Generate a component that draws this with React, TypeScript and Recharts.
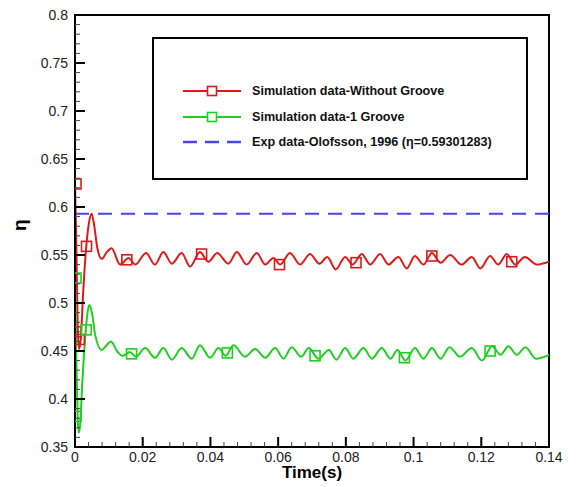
import React from "react";
import {
  ComposedChart,
  Line,
  Scatter,
  XAxis,
  YAxis,
  ReferenceLine,
  ReferenceArea,
  Legend,
} from "recharts";

// ---- data ----
const redTime = [
  0, 0.0004, 0.0008, 0.0012, 0.0017, 0.0024, 0.0033, 0.0041, 0.0049, 0.0057, 0.0066, 0.0079,
  0.0094, 0.0108, 0.0133, 0.0158, 0.0178, 0.021, 0.0236, 0.0261, 0.0286, 0.0315, 0.034, 0.0369,
  0.0394, 0.042, 0.0453, 0.0478, 0.0507, 0.0537, 0.0562, 0.0586, 0.0606, 0.0635, 0.0665, 0.0694,
  0.0722, 0.0745, 0.077, 0.0798, 0.082, 0.0847, 0.0872, 0.0901, 0.0926, 0.0955, 0.098, 0.1004,
  0.1029, 0.1054, 0.108, 0.1108, 0.1142, 0.1172, 0.1197, 0.1226, 0.125, 0.1275, 0.13, 0.1329,
  0.1364, 0.14,
];
const redEta = [
  0.625, 0.56, 0.475, 0.452, 0.462, 0.51, 0.558, 0.583, 0.593, 0.58, 0.557, 0.546,
  0.553, 0.557, 0.54, 0.547, 0.54, 0.552, 0.54, 0.553, 0.541, 0.552, 0.538, 0.553,
  0.543, 0.552, 0.541, 0.553, 0.54, 0.552, 0.54, 0.547, 0.54, 0.552, 0.54, 0.551,
  0.541, 0.548, 0.535, 0.548, 0.54, 0.551, 0.54, 0.551, 0.54, 0.548, 0.536, 0.549,
  0.54, 0.552, 0.542, 0.55, 0.54, 0.548, 0.536, 0.549, 0.54, 0.551, 0.54, 0.548,
  0.54, 0.543,
];

const greenTime = [
  0, 0.0004, 0.0008, 0.0011, 0.0015, 0.0022, 0.0031, 0.0037, 0.0042, 0.005, 0.006, 0.0079,
  0.0093, 0.0106, 0.0124, 0.0141, 0.0162, 0.018, 0.0207, 0.0236, 0.0261, 0.0286, 0.0315, 0.0345,
  0.0369, 0.0399, 0.0424, 0.0445, 0.0468, 0.0502, 0.0532, 0.0562, 0.0591, 0.0616, 0.064, 0.0668,
  0.069, 0.0719, 0.075, 0.0772, 0.0798, 0.0822, 0.0852, 0.0877, 0.0906, 0.0932, 0.0952, 0.0976,
  0.1004, 0.1029, 0.1054, 0.108, 0.1106, 0.1137, 0.1172, 0.1202, 0.1232, 0.1257, 0.128, 0.1305,
  0.133, 0.1362, 0.14,
];
const greenEta = [
  0.526, 0.44, 0.38, 0.365, 0.372, 0.42, 0.468, 0.49, 0.498, 0.49, 0.466, 0.451,
  0.456, 0.46, 0.45, 0.445, 0.449, 0.444, 0.453, 0.443, 0.453, 0.441, 0.453, 0.442,
  0.456, 0.443, 0.453, 0.445, 0.456, 0.444, 0.452, 0.443, 0.453, 0.442, 0.454, 0.444,
  0.453, 0.442, 0.451, 0.441, 0.453, 0.442, 0.453, 0.442, 0.453, 0.442, 0.451, 0.44,
  0.453, 0.442, 0.453, 0.442, 0.454, 0.444, 0.453, 0.44, 0.455, 0.446, 0.455, 0.446,
  0.454, 0.442, 0.446,
];

const redMarkTime = [0.0003, 0.0003, 0.0013, 0.0034, 0.0153, 0.0374, 0.0604, 0.083, 0.1054, 0.129];
const redMarkEta = [0.624, 0.47, 0.462, 0.559, 0.545, 0.551, 0.54, 0.542, 0.549, 0.543];
const greenMarkTime = [0.0003, 0.0003, 0.0033, 0.0167, 0.045, 0.0709, 0.0973, 0.1226];
const greenMarkEta = [0.526, 0.382, 0.472, 0.447, 0.448, 0.445, 0.443, 0.45];

const expEta = 0.59301283;

const xMajor = [0, 0.02, 0.04, 0.06, 0.08, 0.1, 0.12, 0.14];
const xTicks = [
  0, 0.004, 0.008, 0.012, 0.016, 0.02, 0.024, 0.028, 0.032, 0.036, 0.04, 0.044, 0.048, 0.052,
  0.056, 0.06, 0.064, 0.068, 0.072, 0.076, 0.08, 0.084, 0.088, 0.092, 0.096, 0.1, 0.104, 0.108,
  0.112, 0.116, 0.12, 0.124, 0.128, 0.132, 0.136, 0.14,
];
const yMajor = [0.35, 0.4, 0.45, 0.5, 0.55, 0.6, 0.65, 0.7, 0.75, 0.8];
const yTicks = [
  0.35, 0.36, 0.37, 0.38, 0.39, 0.4, 0.41, 0.42, 0.43, 0.44, 0.45, 0.46, 0.47, 0.48, 0.49, 0.5,
  0.51, 0.52, 0.53, 0.54, 0.55, 0.56, 0.57, 0.58, 0.59, 0.6, 0.61, 0.62, 0.63, 0.64, 0.65, 0.66,
  0.67, 0.68, 0.69, 0.7, 0.71, 0.72, 0.73, 0.74, 0.75, 0.76, 0.77, 0.78, 0.79, 0.8,
];

const legendLabels = [
  "Simulation data-Without Groove",
  "Simulation data-1 Groove",
  "Exp data-Olofsson, 1996 (η=0.59301283)",
];

const RED = "#dc1a1a";
const GREEN = "#1fcf1f";
const BLUE = "#4646f2";
const FONT = "'Liberation Sans', Arial, sans-serif";

const redData = redTime.map((t, i) => ({ t, eta: redEta[i] }));
const greenData = greenTime.map((t, i) => ({ t, eta: greenEta[i] }));
const redMarks = redMarkTime.map((t, i) => ({ t, eta: redMarkEta[i] }));
const greenMarks = greenMarkTime.map((t, i) => ({ t, eta: greenMarkEta[i] }));

const isIn = (arr: number[], v: number) => arr.some((m) => Math.abs(m - v) < 1e-9);

const YTick = (props: any) => {
  const { x, y, payload } = props;
  const v = payload.value;
  const major = isIn(yMajor, v);
  const ax = x + 7;
  return (
    <g>
      <line x1={ax} x2={ax + (major ? 10 : 5)} y1={y} y2={y} stroke={major ? "#000" : "#444"} strokeWidth={major ? 2 : 1} />
      {major && (
        <text x={x} y={y} dy="0.36em" textAnchor="end" fontSize={14} fontFamily={FONT} fill="#222">
          {String(v)}
        </text>
      )}
    </g>
  );
};

const XTick = (props: any) => {
  const { x, y, payload } = props;
  const v = payload.value;
  const major = isIn(xMajor, v);
  const ay = y - 3;
  return (
    <g>
      <line x1={x} x2={x} y1={ay} y2={ay - (major ? 10 : 5)} stroke={major ? "#000" : "#444"} strokeWidth={major ? 2 : 1} />
      {major && (
        <text x={x} y={y} dy="0.85em" textAnchor="middle" fontSize={14} fontFamily={FONT} fill="#222">
          {String(v)}
        </text>
      )}
    </g>
  );
};

const square = (color: string) => (props: any) => {
  const { cx, cy } = props;
  return <rect x={cx - 5} y={cy - 5} width={10} height={10} fill="none" stroke={color} strokeWidth={1.6} />;
};

const LegendBox = () => {
  const colors = [RED, GREEN, BLUE];
  return (
    <div
      style={{
        width: 372,
        height: 139,
        border: "2px solid #000",
        background: "#fff",
        position: "relative",
        fontFamily: FONT,
      }}
    >
      {legendLabels.map((lab, i) => {
        const top = [52, 78, 103][i];
        return (
          <div key={lab} style={{ position: "absolute", left: 0, top: top - 10, height: 20, width: 370 }}>
            <svg width={100} height={20} style={{ position: "absolute", left: 0, top: 0 }}>
              {i < 2 ? (
                <g>
                  <line x1={29} x2={87} y1={10} y2={10} stroke={colors[i]} strokeWidth={2} />
                  <rect x={53.5} y={5.5} width={9} height={9} fill="#fff" stroke={colors[i]} strokeWidth={1.6} />
                </g>
              ) : (
                <line x1={29} x2={87} y1={10} y2={10} stroke={colors[i]} strokeWidth={2.5} strokeDasharray="14 8" />
              )}
            </svg>
            <span
              style={{
                position: "absolute",
                left: 98,
                top: 2,
                fontSize: 12.6,
                fontWeight: "bold",
                lineHeight: "16px",
                color: "#111",
                whiteSpace: "nowrap",
              }}
            >
              {lab}
            </span>
          </div>
        );
      })}
    </div>
  );
};

export default function App() {
  return (
    <ComposedChart
      width={560}
      height={476}
      margin={{ top: 7, right: 19, bottom: 0, left: 2 }}
      style={{ background: "#fff" }}
    >
      <XAxis
        dataKey="t"
        type="number"
        domain={[0, 0.14]}
        ticks={xTicks}
        interval={0}
        tick={<XTick />}
        tickLine={false}
        tickSize={0}
        tickMargin={3}
        axisLine={{ stroke: "#000", strokeWidth: 2 }}
        height={37}
        allowDataOverflow
        label={{
          value: "Time(s)",
          position: "insideBottom",
          offset: 6,
          style: { fontFamily: FONT, fontSize: 17, fontWeight: "bold", fill: "#000" },
        }}
      />
      <YAxis
        dataKey="eta"
        type="number"
        domain={[0.35, 0.8]}
        ticks={yTicks}
        interval={0}
        tick={<YTick />}
        tickLine={false}
        tickSize={0}
        tickMargin={7}
        axisLine={{ stroke: "#000", strokeWidth: 2 }}
        width={65}
        allowDataOverflow
        label={{
          value: "η",
          angle: -90,
          position: "insideLeft",
          offset: 9,
          style: { fontFamily: FONT, fontSize: 19, fontWeight: "bold", fill: "#000" },
        }}
      />
      <ReferenceArea
        x1={0}
        x2={0.14}
        y1={0.35}
        y2={0.8}
        fill="none"
        stroke="#000"
        strokeWidth={2}
        ifOverflow="visible"
      />
      <ReferenceLine y={expEta} stroke={BLUE} strokeWidth={2} strokeDasharray="14 9" />
      <Line
        data={redData}
        dataKey="eta"
        type="monotone"
        stroke={RED}
        strokeWidth={2}
        dot={false}
        isAnimationActive={false}
        name={legendLabels[0]}
      />
      <Line
        data={greenData}
        dataKey="eta"
        type="monotone"
        stroke={GREEN}
        strokeWidth={2}
        dot={false}
        isAnimationActive={false}
        name={legendLabels[1]}
      />
      <Scatter data={redMarks} dataKey="eta" shape={square(RED)} isAnimationActive={false} legendType="none" />
      <Scatter data={greenMarks} dataKey="eta" shape={square(GREEN)} isAnimationActive={false} legendType="none" />
      <Legend
        layout="horizontal"
        verticalAlign="middle"
        align="center"
        content={<LegendBox />}
        wrapperStyle={{ position: "absolute", left: 144, top: 29, width: 376, height: 143 }}
      />
    </ComposedChart>
  );
}
